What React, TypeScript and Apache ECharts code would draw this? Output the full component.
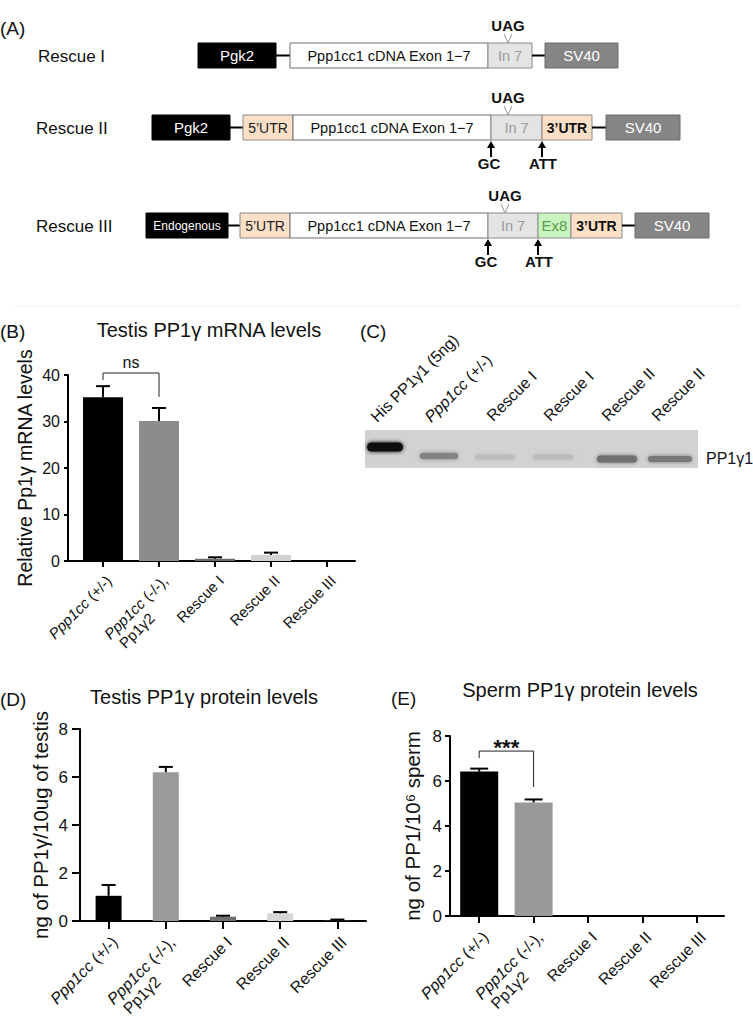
import React, { useEffect, useRef } from 'react';
import * as echarts from 'echarts';

const FONT = "'Liberation Sans', Arial, Helvetica, sans-serif";

// ---------- data ----------
const categories = ['Ppp1cc (+/-)', 'Ppp1cc (-/-),\nPp1γ2', 'Rescue I', 'Rescue II', 'Rescue III'];

const mrnaMean = [35.2, 30.1, 0.5, 1.3, 0];
const mrnaErrTop = [37.6, 32.9, 0.8, 1.8, 0];
const mrnaColors = ['#000000', '#8c8c8c', '#6b6b6b', '#d2d2d2', '#000000'];
const mrnaTicks = [0, 40, 10]; // min, max, interval

const testisMean = [1.05, 6.2, 0.18, 0.32, 0.03];
const testisErrTop = [1.5, 6.42, 0.22, 0.37, 0.06];
const testisColors = ['#000000', '#9a9a9a', '#707070', '#d6d6d6', '#333333'];
const proteinTicks = [0, 8, 2];

const spermMean = [6.42, 5.05, 0, 0, 0];
const spermErrTop = [6.55, 5.18, 0, 0, 0];
const spermColors = ['#000000', '#999999', '#999999', '#999999', '#999999'];

// [from category, to category, bracket level, left leg end, right leg end]
const mrnaBracket = [0, 1, 40.43, 38.9, 35.3];
const mrnaBracketLabel = 'ns';
const spermBracket = [0, 1, 7.33, 7.02, 5.73];
const spermBracketLabel = '***';

const constructNames = ['Rescue I', 'Rescue II', 'Rescue III'];
const blotLanes = ['His PP1γ1 (5ng)', 'Ppp1cc (+/-)', 'Rescue I', 'Rescue I', 'Rescue II', 'Rescue II'];
const blotBandDarkness = [0.92, 0.38, 0.1, 0.11, 0.47, 0.43];
const blotBandLabel = 'PP1γ1';

// ---------- helpers ----------
const italicize = (s: string) => s.replace('Ppp1cc', '{i|Ppp1cc}');
const axisLabelText = (v: string) => {
  const [a, b] = v.split('\n');
  return b ? italicize(a) + '\n{l| ' + b + '}' : italicize(a);
};

function xAxisFor(gridIndex: number, fontSize: number, tickLen: number, margin: number) {
  return {
    type: 'category', gridIndex, data: categories,
    axisLine: { show: true, lineStyle: { color: '#000', width: 2 } },
    axisTick: { show: true, alignWithLabel: true, length: tickLen, lineStyle: { color: '#000', width: 2 } },
    axisLabel: {
      rotate: 45, interval: 0, margin, fontSize, fontFamily: FONT, color: '#111', lineHeight: fontSize + 2,
      verticalAlign: 'top',
      formatter: (v: string) => axisLabelText(v),
      rich: {
        i: { fontStyle: 'italic', fontSize, fontFamily: FONT, color: '#111' },
        l: { align: 'left', fontSize, fontFamily: FONT, color: '#111' },
      },
    },
    splitLine: { show: false },
  };
}

function yAxisFor(gridIndex: number, ticks: number[], name: string, nameSize: number, nameGap: number,
  offset: number, labelSize: number, labelMargin: number, tickLen: number) {
  return {
    type: 'value', gridIndex, min: ticks[0], max: ticks[1], interval: ticks[2], offset,
    name, nameLocation: 'middle', nameGap, nameRotate: 90,
    nameTextStyle: { fontSize: nameSize, fontFamily: FONT, color: '#111' },
    axisLine: { show: true, lineStyle: { color: '#000', width: 2 } },
    axisTick: { show: true, length: tickLen, lineStyle: { color: '#000', width: 2 } },
    axisLabel: { fontSize: labelSize, fontFamily: FONT, color: '#111', margin: labelMargin },
    splitLine: { show: false },
  };
}

function barSeries(g: number, mean: number[], colors: string[], width: number) {
  return {
    type: 'bar', xAxisIndex: g, yAxisIndex: g, barWidth: width, silent: true,
    data: mean.map((v, i) => ({ value: v, itemStyle: { color: colors[i] } })),
  };
}

function errSeries(g: number, mean: number[], top: number[], cap: number) {
  return {
    type: 'custom', xAxisIndex: g, yAxisIndex: g, silent: true, clip: false, z: 5,
    encode: { x: 0, y: [1, 2] },
    data: mean.map((v, i) => [i, v, top[i]]).filter((d) => d[2] > d[1]),
    renderItem: (_p: any, api: any) => {
      const a = api.coord([api.value(0), api.value(1)]);
      const b = api.coord([api.value(0), api.value(2)]);
      return {
        type: 'group', children: [
          { type: 'line', shape: { x1: a[0], y1: a[1], x2: b[0], y2: b[1] }, style: { stroke: '#000', lineWidth: 2 } },
          { type: 'line', shape: { x1: b[0] - cap, y1: b[1], x2: b[0] + cap, y2: b[1] }, style: { stroke: '#000', lineWidth: 2 } },
        ],
      };
    },
  };
}

function bracketSeries(g: number, br: number[], label: string, fontSize: number, bold: boolean, textShift: number) {
  return {
    type: 'custom', xAxisIndex: g, yAxisIndex: g, silent: true, clip: false, z: 6,
    encode: { x: [0, 1], y: [2, 3, 4] },
    data: [br],
    renderItem: (_p: any, api: any) => {
      const l = api.coord([api.value(0), api.value(2)]);
      const r = api.coord([api.value(1), api.value(2)]);
      const le = api.coord([api.value(0), api.value(3)]);
      const re = api.coord([api.value(1), api.value(4)]);
      const st = { stroke: '#222', lineWidth: 1 };
      return {
        type: 'group', children: [
          { type: 'line', shape: { x1: l[0], y1: l[1], x2: r[0], y2: r[1] }, style: st },
          { type: 'line', shape: { x1: l[0], y1: l[1], x2: le[0], y2: le[1] }, style: st },
          { type: 'line', shape: { x1: r[0], y1: r[1], x2: re[0], y2: re[1] }, style: st },
          {
            type: 'text', x: (l[0] + r[0]) / 2, y: l[1] - textShift,
            style: {
              text: label, fontSize, fontFamily: FONT, fontWeight: bold ? 'bold' : 'normal', fill: '#111',
              textAlign: 'center', textVerticalAlign: 'middle',
            },
          },
        ],
      };
    },
  };
}

function txt(x: number, y: number, text: string, fontSize: number, opts: any = {}) {
  const { rotation, ...style } = opts;
  const el: any = {
    type: 'text', x, y,
    style: {
      text, fontSize, fontFamily: FONT, fill: '#111', textAlign: 'left', textVerticalAlign: 'middle', ...style,
    },
  };
  if (rotation) el.rotation = rotation;
  return el;
}

function ln(x1: number, y1: number, x2: number, y2: number, stroke = '#000', lineWidth = 2) {
  return { type: 'line', shape: { x1, y1, x2, y2 }, style: { stroke, lineWidth } };
}

// ---------- panel A (schematic) ----------
const segStyle: Record<string, any> = {
  promoter: { fill: '#000', stroke: '#000', color: '#fff', size: 15, weight: 'normal' },
  endo: { fill: '#000', stroke: '#000', color: '#fff', size: 12, weight: 'normal' },
  cdna: { fill: '#fff', stroke: '#6e6e6e', color: '#111', size: 14.5, weight: 'normal' },
  intron: { fill: '#e4e4e4', stroke: '#8a8a8a', color: '#9a9a9a', size: 14.5, weight: 'normal' },
  utr5: { fill: '#fbdfc7', stroke: '#8a8a8a', color: '#222', size: 14, weight: 'normal' },
  utr3: { fill: '#fbdfc7', stroke: '#8a8a8a', color: '#111', size: 14, weight: 'bold' },
  ex8: { fill: '#c9f3c1', stroke: '#8a8a8a', color: '#5a9e4c', size: 15, weight: 'normal' },
  sv40: { fill: '#858585', stroke: '#6a6a6a', color: '#fff', size: 15, weight: 'normal' },
};

type Row = { y: number; labelX: number; segs: [string, string, number, number][]; uag: number; arrows: number[] | null };
const rowLayout: Row[] = [
  {
    y: 43, labelX: 38, uag: 508, arrows: null,
    segs: [['promoter', 'Pgk2', 198, 276], ['link', '', 276, 290], ['cdna', 'Ppp1cc1 cDNA Exon 1−7', 290, 488],
      ['intron', 'In 7', 488, 532], ['link', '', 532, 545], ['sv40', 'SV40', 545, 618]],
  },
  {
    y: 115, labelX: 36, uag: 508, arrows: [491, 542],
    segs: [['promoter', 'Pgk2', 152, 230], ['link', '', 230, 243], ['utr5', '5’UTR', 243, 293],
      ['cdna', 'Ppp1cc1 cDNA Exon 1−7', 293, 491], ['intron', 'In 7', 491, 542], ['utr3', '3’UTR', 542, 592],
      ['link', '', 592, 606], ['sv40', 'SV40', 606, 680]],
  },
  {
    y: 213, labelX: 36, uag: 505, arrows: [488, 538],
    segs: [['endo', 'Endogenous', 146, 228], ['link', '', 228, 240], ['utr5', '5’UTR', 240, 290],
      ['cdna', 'Ppp1cc1 cDNA Exon 1−7', 290, 488], ['intron', 'In 7', 488, 538], ['ex8', 'Ex8', 538, 571],
      ['utr3', '3’UTR', 571, 622], ['link', '', 622, 635], ['sv40', 'SV40', 635, 709]],
  },
];

function panelA(): any[] {
  const els: any[] = [txt(0, 28, '(A)', 19)];
  const H = 25;
  rowLayout.forEach((row, ri) => {
    const cy = row.y + H / 2;
    els.push(txt(row.labelX, cy + 1, constructNames[ri], 17));
    row.segs.forEach(([kind, label, x1, x2]) => {
      if (kind === 'link') {
        els.push(ln(x1, cy, x2, cy, '#000', 2));
        return;
      }
      const s = segStyle[kind];
      els.push({
        type: 'rect', shape: { x: x1, y: row.y, width: x2 - x1, height: H },
        style: { fill: s.fill, stroke: s.stroke, lineWidth: 1 },
      });
      els.push(txt((x1 + x2) / 2, cy, label, s.size, { fill: s.color, fontWeight: s.weight, textAlign: 'center' }));
    });
    const u = row.uag;
    els.push(txt(u, row.y - 18, 'UAG', 15, { fontWeight: 'bold', textAlign: 'center' }));
    els.push(ln(u - 4, row.y - 9, u, row.y, '#999', 1));
    els.push(ln(u + 4, row.y - 9, u, row.y, '#999', 1));
    if (row.arrows) {
      const by = row.y + H;
      const names = ['GC', 'ATT'];
      row.arrows.forEach((ax, k) => {
        els.push(ln(ax, by + 6, ax, by + 17, '#000', 2));
        els.push({ type: 'polygon', shape: { points: [[ax - 4, by + 8], [ax + 4, by + 8], [ax, by + 1]] }, style: { fill: '#000' } });
        els.push(txt(ax - (k === 0 ? 2 : -1), by + 23, names[k], 15, { fontWeight: 'bold', textAlign: 'center' }));
      });
    }
  });
  els.push(ln(15, 306, 740, 306, '#efefef', 1));
  return els;
}

// ---------- panel C (western blot) ----------
const laneX = [385, 439, 495, 553, 617, 670];
const laneLabelPos = [[379, 425], [433, 425], [495, 424], [552, 424], [610, 424], [660, 424]];
const bandGeom = [[36, 447, 9], [38, 456, 6], [40, 457, 5], [40, 457, 5], [40, 459, 7], [44, 459, 6]];

function panelC(): any[] {
  const els: any[] = [txt(360, 331, '(C)', 19)];
  els.push({ type: 'rect', shape: { x: 365, y: 430, width: 333, height: 38 }, style: { fill: '#d2d2d2' } });
  blotBandDarkness.forEach((d, i) => {
    const g = Math.round(210 * (1 - d));
    const col = `rgb(${g},${g},${g})`;
    const [w, cy, h] = bandGeom[i];
    els.push({
      type: 'rect', shape: { x: laneX[i] - w / 2, y: cy - h / 2, width: w, height: h, r: h / 2 },
      style: { fill: col, shadowBlur: 4, shadowColor: col },
    });
  });
  blotLanes.forEach((name, i) => {
    const [x, y] = laneLabelPos[i];
    els.push({
      type: 'text', x, y, rotation: Math.PI / 4,
      style: {
        text: italicize(name), fontSize: 16, fontFamily: FONT, fill: '#111',
        textAlign: 'left', textVerticalAlign: 'bottom',
        rich: { i: { fontStyle: 'italic', fontSize: 16, fontFamily: FONT, fill: '#111' } },
      },
    });
  });
  els.push(txt(706, 458, blotBandLabel, 16));
  return els;
}

function buildOption(): any {
  const graphics: any[] = [
    ...panelA(),
    ...panelC(),
    txt(0, 331, '(B)', 19),
    txt(209, 330, 'Testis PP1γ mRNA levels', 20, { textAlign: 'center' }),
    txt(0, 699, '(D)', 19),
    txt(204, 697, 'Testis PP1γ protein levels', 20, { textAlign: 'center' }),
    txt(391, 698, '(E)', 19),
    txt(580, 690, 'Sperm PP1γ protein levels', 20, { textAlign: 'center' }),
    ln(67, 561, 76, 561),
    ln(449, 916, 453, 916),
  ];

  return {
    animation: false,
    backgroundColor: '#fff',
    grid: [
      { left: 75, top: 375, width: 280, height: 186 },
      { left: 80, top: 729, width: 286, height: 192 },
      { left: 452, top: 736, width: 272, height: 180 },
    ],
    xAxis: [
      xAxisFor(0, 15, 6, 11),
      xAxisFor(1, 16, 8, 12),
      xAxisFor(2, 16, 7, 12),
    ],
    yAxis: [
      yAxisFor(0, mrnaTicks, 'Relative Pp1γ mRNA levels', 19.5, 33, 7, 16, 8, 4),
      yAxisFor(1, proteinTicks, 'ng of PP1γ/10ug of testis', 20.5, 29, 0, 17, 12, 8),
      yAxisFor(2, proteinTicks, 'ng of PP1/10⁶ sperm', 20.5, 27, 2, 17, 8, 5),
    ],
    series: [
      barSeries(0, mrnaMean, mrnaColors, 40),
      errSeries(0, mrnaMean, mrnaErrTop, 7),
      bracketSeries(0, mrnaBracket, mrnaBracketLabel, 16, false, 11),
      barSeries(1, testisMean, testisColors, 26),
      errSeries(1, testisMean, testisErrTop, 7),
      barSeries(2, spermMean, spermColors, 38),
      errSeries(2, spermMean, spermErrTop, 9),
      bracketSeries(2, spermBracket, spermBracketLabel, 22, true, 4),
    ],
    graphic: graphics,
  };
}

export default function App() {
  const ref = useRef<HTMLDivElement>(null);
  useEffect(() => {
    const chart = echarts.init(ref.current as HTMLDivElement, undefined, { renderer: 'svg' });
    chart.setOption(buildOption());
    return () => chart.dispose();
  }, []);
  return (
    <div
      ref={ref}
      style={{ position: 'absolute', left: 0, top: 0, width: 753, height: 1034, background: '#fff' }}
    />
  );
}
